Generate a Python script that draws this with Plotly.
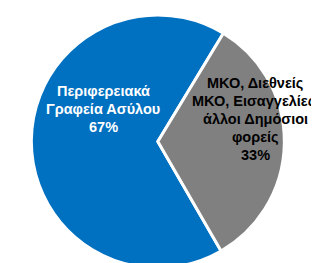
import plotly.graph_objects as go

labels = ["Περιφερειακά<br>Γραφεία Ασύλου", "ΜΚΟ, Διεθνείς<br>ΜΚΟ, Εισαγγελίες,<br>άλλοι Δημόσιοι<br>φορείς"]
values = [67, 33]
colors = ["#0070C0", "#808080"]
text_colors = ["white", "black"]

W, H = 319, 263
fig = go.Figure(go.Pie(
    labels=labels,
    values=values,
    sort=False,
    direction="clockwise",
    rotation=150,
    marker=dict(colors=colors, line=dict(color="white", width=3)),
    textinfo="none",
    hoverinfo="label+percent",
    showlegend=False,
    domain=dict(x=[21.7 / W, 278 / W], y=[3 / H, 256 / H]),
))

# label block placement (pixel centre x, first-line centre y, line step)
label_pos = [(95, 83), (247, 75)]
step = 18
for lab, val, tc, (px, py) in zip(labels, values, text_colors, label_pos):
    lines = lab.split("<br>") + [f"{val}%"]
    for i, ln in enumerate(lines):
        fig.add_annotation(
            x=px / W, y=(H - (py + i * step)) / H, xref="paper", yref="paper",
            text=f"<b>{ln}</b>", showarrow=False,
            font=dict(family="Liberation Sans, Arial", size=14.5, color=tc),
            align="center", xanchor="center", yanchor="middle",
        )

fig.update_layout(
    width=W, height=H,
    margin=dict(l=0, r=0, t=0, b=0),
    paper_bgcolor="white", plot_bgcolor="white",
)
fig.write_html("out.html")
